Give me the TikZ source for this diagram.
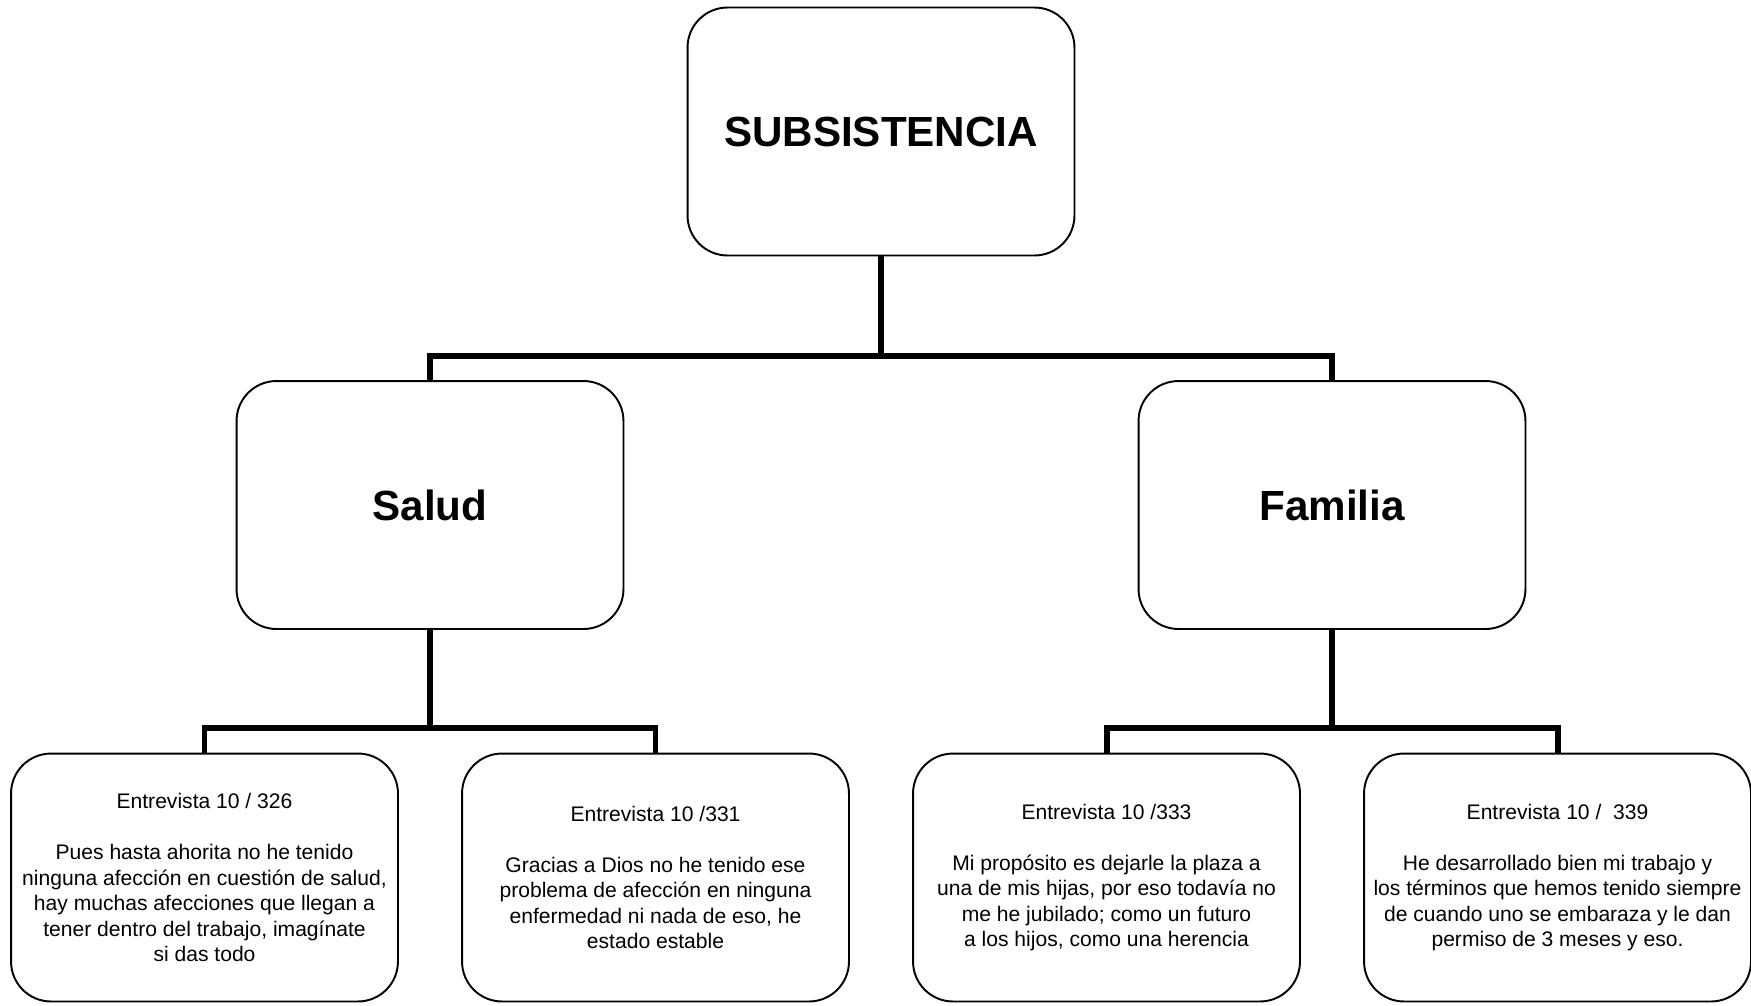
\documentclass[tikz,border=0pt]{standalone}
\usepackage{fontspec}
\setmainfont{Liberation Sans}

\begin{document}
\begin{tikzpicture}[x=0.02cm,y=-0.02cm]
\tikzset{
  box/.style={draw,line width=1.1pt,rounded corners=0.8cm,align=center,inner sep=0pt,
    minimum width=7.74cm,minimum height=4.96cm},
  head/.style={box,font=\fontsize{24}{28}\selectfont\bfseries},
  quote/.style={box,font=\fontsize{12}{14.5}\selectfont},
  link/.style={line width=3.4pt}
}
\useasboundingbox (0,0) rectangle (1751,1005);

\node[head] (subs) at (881,131.5) {SUBSISTENCIA};
\node[head] (salud) at (430,505) {Salud};
\node[head] (familia) at (1332,505) {Familia};

\node[quote] (e326) at (204.5,877.5) {Entrevista 10 / 326\\[14.5pt]
  Pues hasta ahorita no he tenido\\ ninguna afección en cuestión de salud,\\
  hay muchas afecciones que llegan a\\ tener dentro del trabajo, imagínate\\ si das todo};
\node[quote] (e331) at (655.5,877.5) {Entrevista 10 /331\\[14.5pt]
  Gracias a Dios no he tenido ese\\ problema de afección en ninguna\\
  enfermedad ni nada de eso, he\\ estado estable};
\node[quote] (e333) at (1106.5,877.5) {Entrevista 10 /333\\[14.5pt]
  Mi propósito es dejarle la plaza a\\ una de mis hijas, por eso todavía no\\
  me he jubilado; como un futuro\\ a los hijos, como una herencia};
\node[quote] (e339) at (1557.5,877.5) {Entrevista 10 /\ \ 339\\[14.5pt]
  He desarrollado bien mi trabajo y\\ los términos que hemos tenido siempre\\
  de cuando uno se embaraza y le dan\\ permiso de 3 meses y eso.};

% connectors
\draw[link] (subs.south) -- (subs.south |- 0,357);
\draw[link] (salud.north) -- ++(0,-24) -| (familia.north);
\draw[link] (salud.south) -- (salud.south |- 0,729);
\draw[link] (e326.north) -- ++(0,-25) -| (e331.north);
\draw[link] (familia.south) -- (familia.south |- 0,729);
\draw[link] (e333.north) -- ++(0,-25) -| (e339.north);
\end{tikzpicture}
\end{document}
